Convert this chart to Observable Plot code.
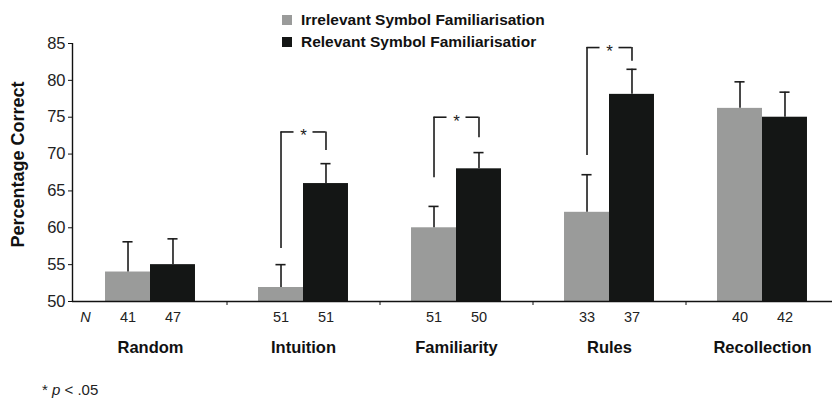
<!DOCTYPE html>
<html><head><meta charset="utf-8">
<script src="https://cdn.jsdelivr.net/npm/d3@7"></script>
<script src="https://cdn.jsdelivr.net/npm/@observablehq/plot@0.6"></script>
<style>
body{margin:0;background:#fff;font-family:"Liberation Sans",Arial,Helvetica,sans-serif;}
#wrap{position:relative;width:832px;height:399px;overflow:hidden;}
#legend{position:absolute;left:282px;top:9px;font-weight:bold;font-size:15.5px;color:#111;}
#legend .row{display:flex;align-items:center;height:22px;white-space:nowrap;}
#legend .sw{display:inline-block;width:10px;height:10px;margin-right:9px;}
#note{position:absolute;left:42px;top:381px;font-size:15px;color:#222;}
</style>
</head><body>
<div id="wrap">
  <div id="chart"></div>
  <div id="legend"></div>
  <div id="note">* <i>p</i> &lt; .05</div>
</div>
<script>
// ---- data ----
const categories = ["Random", "Intuition", "Familiarity", "Rules", "Recollection"];
const seriesNames = ["Irrelevant Symbol Familiarisation", "Relevant Symbol Familiarisatior"];
const seriesColors = ["#9a9b9a", "#141615"];
const irrelevantMean = [54, 51.9, 60, 62.1, 76.2];
const irrelevantUpper = [58.1, 55, 62.9, 67.2, 79.8];
const relevantMean = [55, 66, 68, 78.1, 75];
const relevantUpper = [58.5, 68.7, 70.2, 81.5, 78.4];
const nIrrelevant = [41, 51, 51, 33, 40];
const nRelevant = [47, 51, 50, 37, 42];
const yTicks = [50, 55, 60, 65, 70, 75, 80, 85];
// significance brackets: category, left leg bottom, right leg bottom, top
const sigCats = ["Intuition", "Familiarity", "Rules"];
const sigLeft = [57.2, 66.8, 69.8];
const sigRight = [70.5, 72.2, 82.6];
const sigTop = [73.0, 75.0, 84.45];

// ---- derived table ----
const BW = 0.294; // bar width as fraction of a category band
const bars = [];
categories.forEach((c, i) => {
  bars.push({cat: c, s: 0, x1: i + 0.5 - BW, x2: i + 0.5, mean: irrelevantMean[i], up: irrelevantUpper[i], n: nIrrelevant[i]});
  bars.push({cat: c, s: 1, x1: i + 0.5, x2: i + 0.5 + BW, mean: relevantMean[i], up: relevantUpper[i], n: nRelevant[i]});
});
bars.forEach(d => d.xc = (d.x1 + d.x2) / 2);
const sig = sigCats.map((c, k) => {
  const i = categories.indexOf(c);
  return {i, xl: i + 0.5 - BW / 2, xr: i + 0.5 + BW / 2, xm: i + 0.5, yl: sigLeft[k], yr: sigRight[k], top: sigTop[k]};
});
const GAP = 0.062;
const CAP = 0.033;
const ink = "#1c1c1c";

const chart = Plot.plot({
  width: 832, height: 399,
  marginLeft: 72, marginRight: 0, marginTop: 43, marginBottom: 98,
  style: {fontFamily: '"Liberation Sans", Arial, Helvetica, sans-serif', fontSize: "16px", color: "#222", background: "transparent"},
  x: {domain: [0, 5], range: [73.5, 838.5], axis: null},
  y: {domain: [50, 85], axis: null},
  marks: [
    Plot.rectY(bars.filter(d => d.s === 0), {x1: "x1", x2: "x2", y1: 50, y2: "mean", fill: seriesColors[0]}),
    Plot.rectY(bars.filter(d => d.s === 1), {x1: "x1", x2: "x2", y1: 50, y2: "mean", fill: seriesColors[1]}),
    // error bars
    Plot.ruleX(bars, {x: "xc", y1: "mean", y2: "up", stroke: ink, strokeWidth: 1.6}),
    Plot.ruleY(bars, {y: "up", x1: d => d.xc - CAP, x2: d => d.xc + CAP, stroke: ink, strokeWidth: 1.6}),
    // significance brackets
    Plot.ruleX(sig, {x: "xl", y1: "yl", y2: "top", stroke: ink, strokeWidth: 1.6}),
    Plot.ruleX(sig, {x: "xr", y1: "yr", y2: "top", stroke: ink, strokeWidth: 1.6}),
    Plot.ruleY(sig, {y: "top", x1: "xl", x2: d => d.xm - GAP, stroke: ink, strokeWidth: 1.6}),
    Plot.ruleY(sig, {y: "top", x1: d => d.xm + GAP, x2: "xr", stroke: ink, strokeWidth: 1.6}),
    Plot.text(sig, {x: "xm", y: "top", text: () => "*", fontSize: 17, dy: 4, fill: ink}),
    // axes
    Plot.ruleX([0], {dx: -1.5, stroke: "#111", strokeWidth: 1.4}),
    Plot.ruleY([50], {stroke: "#111", strokeWidth: 1.4}),
    Plot.axisY({ticks: yTicks, tickSize: 4, tickPadding: 3, fontSize: 16.5, label: null, stroke: "#111"}),
    Plot.axisX({ticks: [1, 2, 3, 4], tickSize: 4, tickFormat: () => "", label: null, stroke: "#111"}),
    // N labels
    Plot.text(bars, {x: "xc", y: 50, text: d => String(d.n), dy: 16, fontSize: 14.5, fill: "#222"}),
    Plot.text(["N"], {x: 0, y: 50, dx: 11.5, dy: 16, fontSize: 14.5, fontStyle: "italic", fill: "#222"}),
    // category labels
    Plot.text(categories, {x: (d, i) => i + 0.5, y: 50, dy: 46, fontSize: 16.5, fontWeight: "bold", fill: "#111"}),
    // y label
    Plot.text(["Percentage Correct"], {frameAnchor: "left", textAnchor: "middle", lineAnchor: "middle", rotate: -90, dx: -54, dy: -8, fontSize: 18, fontWeight: "bold", fill: "#111"})
  ]
});
document.getElementById("chart").appendChild(chart);

const legend = document.getElementById("legend");
seriesNames.forEach((name, k) => {
  const row = document.createElement("div");
  row.className = "row";
  const sw = document.createElement("span");
  sw.className = "sw";
  sw.style.background = seriesColors[k];
  row.appendChild(sw);
  row.appendChild(document.createTextNode(name));
  legend.appendChild(row);
});
</script>
</body></html>
